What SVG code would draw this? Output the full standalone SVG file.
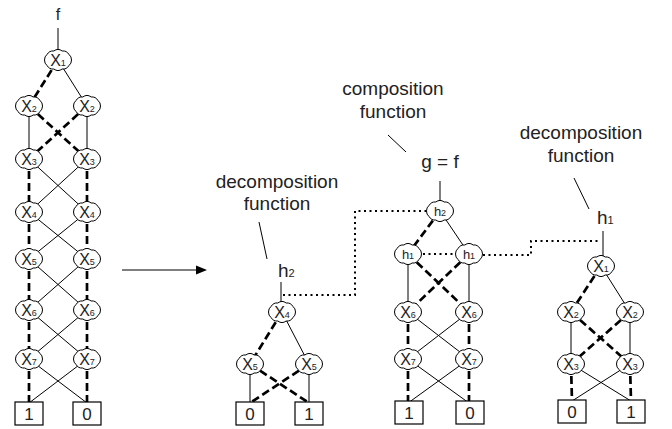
<svg xmlns="http://www.w3.org/2000/svg" xmlns:xlink="http://www.w3.org/1999/xlink" width="672" height="429" viewBox="0 0 672 429">
<style>
.n{fill:#fff;stroke:#000;stroke-width:1}
.b{fill:#fff;stroke:#000;stroke-width:1.2}
.t{font-family:"Liberation Sans",Arial,sans-serif;fill:#222}
.nl{font-size:16px;text-anchor:middle}
.hl{font-size:13px;text-anchor:middle}
.s{font-size:9px}
.lab{font-size:19px;text-anchor:middle}
.one{stroke:#000;stroke-width:1;fill:none}
.zero{stroke:#000;stroke-width:2.7;stroke-dasharray:8 4;fill:none}
.dot{stroke:#000;stroke-width:2;stroke-dasharray:2 3.5;fill:none}
.term{font-size:17px;text-anchor:middle}
</style>
<defs>
<path id="cloud" d="M13.5,0 A7,7 0 0 1 10.92,5.59 A7,7 0 0 1 4.17,9.03 A7,7 0 0 1 -4.17,9.03 A7,7 0 0 1 -10.92,5.59 A7,7 0 0 1 -13.5,0 A7,7 0 0 1 -10.92,-5.59 A7,7 0 0 1 -4.17,-9.03 A7,7 0 0 1 4.17,-9.03 A7,7 0 0 1 10.92,-5.59 A7,7 0 0 1 13.5,0 Z"/>
</defs>
<rect width="672" height="429" fill="#fff"/>

<g id="connectors">
<!-- left BDD -->
<line class="one" x1="58" y1="28" x2="58" y2="52"/>
<line class="zero" x1="58" y1="60" x2="29" y2="106"/>
<line class="one" x1="58" y1="60" x2="87" y2="106"/>
<line class="one" x1="29" y1="106" x2="29" y2="159"/>
<line class="zero" x1="29" y1="106" x2="87" y2="159"/>
<line class="zero" x1="87" y1="106" x2="29" y2="159"/>
<line class="one" x1="87" y1="106" x2="87" y2="159"/>
<line class="zero" x1="29" y1="159" x2="29" y2="212"/>
<line class="one" x1="29" y1="159" x2="87" y2="212"/>
<line class="one" x1="87" y1="159" x2="29" y2="212"/>
<line class="zero" x1="87" y1="159" x2="87" y2="212"/>
<line class="zero" x1="29" y1="212" x2="29" y2="259"/>
<line class="one" x1="29" y1="212" x2="87" y2="259"/>
<line class="one" x1="87" y1="212" x2="29" y2="259"/>
<line class="zero" x1="87" y1="212" x2="87" y2="259"/>
<line class="zero" x1="29" y1="259" x2="29" y2="310"/>
<line class="one" x1="29" y1="259" x2="87" y2="310"/>
<line class="one" x1="87" y1="259" x2="29" y2="310"/>
<line class="zero" x1="87" y1="259" x2="87" y2="310"/>
<line class="zero" x1="29" y1="310" x2="29" y2="359"/>
<line class="one" x1="29" y1="310" x2="87" y2="359"/>
<line class="one" x1="87" y1="310" x2="29" y2="359"/>
<line class="zero" x1="87" y1="310" x2="87" y2="359"/>
<line class="zero" x1="29" y1="359" x2="29" y2="403"/>
<line class="one" x1="29" y1="359" x2="87" y2="403"/>
<line class="one" x1="87" y1="359" x2="29" y2="403"/>
<line class="zero" x1="87" y1="359" x2="87" y2="403"/>
<!-- transformation arrow -->
<line class="one" x1="122" y1="270" x2="198" y2="270" stroke-width="1.3"/>
<polygon points="196,265.5 207,270 196,274.5" fill="#000"/>
<!-- h2 BDD -->
<line class="one" x1="259" y1="222" x2="267" y2="259"/>
<line class="one" x1="281" y1="282" x2="281" y2="304"/>
<line class="zero" x1="282" y1="312" x2="250" y2="364"/>
<line class="one" x1="282" y1="312" x2="309" y2="364"/>
<line class="one" x1="250" y1="364" x2="250" y2="403"/>
<line class="zero" x1="250" y1="364" x2="309" y2="403"/>
<line class="zero" x1="309" y1="364" x2="250" y2="403"/>
<line class="one" x1="309" y1="364" x2="309" y2="403"/>
<polyline class="dot" points="283,295 355,295 355,211 427,211"/>
<!-- composition BDD -->
<line class="one" x1="388" y1="135" x2="406" y2="152"/>
<line class="one" x1="440" y1="181" x2="440" y2="203"/>
<line class="zero" x1="440" y1="211" x2="408" y2="254"/>
<line class="one" x1="440" y1="211" x2="469" y2="254"/>
<line class="one" x1="408" y1="254" x2="408" y2="312"/>
<line class="zero" x1="408" y1="254" x2="469" y2="312"/>
<line class="zero" x1="469" y1="254" x2="408" y2="312"/>
<line class="one" x1="469" y1="254" x2="469" y2="312"/>
<line class="zero" x1="408" y1="312" x2="408" y2="359"/>
<line class="one" x1="408" y1="312" x2="469" y2="359"/>
<line class="one" x1="469" y1="312" x2="408" y2="359"/>
<line class="zero" x1="469" y1="312" x2="469" y2="359"/>
<line class="zero" x1="408" y1="359" x2="408" y2="403"/>
<line class="one" x1="408" y1="359" x2="469" y2="403"/>
<line class="one" x1="469" y1="359" x2="408" y2="403"/>
<line class="zero" x1="469" y1="359" x2="469" y2="403"/>
<line class="dot" x1="423" y1="254" x2="455" y2="254"/>
<polyline class="dot" points="483,255 531,255 531,241 601,241"/>
<!-- h1 BDD -->
<line class="one" x1="574" y1="178" x2="589" y2="209"/>
<line class="one" x1="603" y1="231" x2="603" y2="258"/>
<line class="zero" x1="601" y1="266" x2="571" y2="312"/>
<line class="one" x1="601" y1="266" x2="630" y2="312"/>
<line class="one" x1="571" y1="312" x2="571" y2="364"/>
<line class="zero" x1="571" y1="312" x2="630" y2="364"/>
<line class="zero" x1="630" y1="312" x2="571" y2="364"/>
<line class="one" x1="630" y1="312" x2="630" y2="364"/>
<line class="zero" x1="571" y1="364" x2="572" y2="401"/>
<line class="one" x1="571" y1="364" x2="631" y2="401"/>
<line class="one" x1="630" y1="364" x2="572" y2="401"/>
<line class="zero" x1="630" y1="364" x2="631" y2="401"/>
</g>

<g id="labels" class="t">
<text class="lab" x="58" y="20" style="font-size:16px">f</text>
<text class="lab" x="277" y="188">decomposition</text>
<text class="lab" x="277" y="210">function</text>
<text class="lab" x="278" y="277" style="text-anchor:start">h<tspan class="s" style="font-size:11px">2</tspan></text>
<text class="lab" x="393" y="95">composition</text>
<text class="lab" x="393" y="118">function</text>
<text class="lab" x="440" y="168">g = f</text>
<text class="lab" x="581" y="139">decomposition</text>
<text class="lab" x="581" y="162">function</text>
<text class="lab" x="597" y="224" style="text-anchor:start">h<tspan class="s" style="font-size:11px">1</tspan></text>
</g>

<!-- left BDD nodes -->
<g id="L_x1"><use xlink:href="#cloud" class="n" x="58" y="60"/><text class="t nl" x="58" y="66">X<tspan class="s">1</tspan></text></g>
<g id="L_x2a"><use xlink:href="#cloud" class="n" x="29" y="106"/><text class="t nl" x="29" y="112">X<tspan class="s">2</tspan></text></g>
<g id="L_x2b"><use xlink:href="#cloud" class="n" x="87" y="106"/><text class="t nl" x="87" y="112">X<tspan class="s">2</tspan></text></g>
<g id="L_x3a"><use xlink:href="#cloud" class="n" x="29" y="159"/><text class="t nl" x="29" y="165">X<tspan class="s">3</tspan></text></g>
<g id="L_x3b"><use xlink:href="#cloud" class="n" x="87" y="159"/><text class="t nl" x="87" y="165">X<tspan class="s">3</tspan></text></g>
<g id="L_x4a"><use xlink:href="#cloud" class="n" x="29" y="212"/><text class="t nl" x="29" y="218">X<tspan class="s">4</tspan></text></g>
<g id="L_x4b"><use xlink:href="#cloud" class="n" x="87" y="212"/><text class="t nl" x="87" y="218">X<tspan class="s">4</tspan></text></g>
<g id="L_x5a"><use xlink:href="#cloud" class="n" x="29" y="259"/><text class="t nl" x="29" y="265">X<tspan class="s">5</tspan></text></g>
<g id="L_x5b"><use xlink:href="#cloud" class="n" x="87" y="259"/><text class="t nl" x="87" y="265">X<tspan class="s">5</tspan></text></g>
<g id="L_x6a"><use xlink:href="#cloud" class="n" x="29" y="310"/><text class="t nl" x="29" y="316">X<tspan class="s">6</tspan></text></g>
<g id="L_x6b"><use xlink:href="#cloud" class="n" x="87" y="310"/><text class="t nl" x="87" y="316">X<tspan class="s">6</tspan></text></g>
<g id="L_x7a"><use xlink:href="#cloud" class="n" x="29" y="359"/><text class="t nl" x="29" y="365">X<tspan class="s">7</tspan></text></g>
<g id="L_x7b"><use xlink:href="#cloud" class="n" x="87" y="359"/><text class="t nl" x="87" y="365">X<tspan class="s">7</tspan></text></g>
<g id="L_t1"><rect class="b" x="15" y="402" width="28" height="23"/><text class="t term" x="29" y="420">1</text></g>
<g id="L_t0"><rect class="b" x="73" y="402" width="28" height="23"/><text class="t term" x="87" y="420">0</text></g>

<!-- h2 BDD nodes -->
<g id="A_x4"><use xlink:href="#cloud" class="n" x="282" y="312"/><text class="t nl" x="282" y="318">X<tspan class="s">4</tspan></text></g>
<g id="A_x5a"><use xlink:href="#cloud" class="n" x="250" y="364"/><text class="t nl" x="250" y="370">X<tspan class="s">5</tspan></text></g>
<g id="A_x5b"><use xlink:href="#cloud" class="n" x="309" y="364"/><text class="t nl" x="309" y="370">X<tspan class="s">5</tspan></text></g>
<g id="A_t0"><rect class="b" x="236" y="402" width="28" height="23"/><text class="t term" x="250" y="420">0</text></g>
<g id="A_t1"><rect class="b" x="295" y="402" width="28" height="23"/><text class="t term" x="309" y="420">1</text></g>

<!-- composition BDD nodes -->
<g id="B_h2"><use xlink:href="#cloud" class="n" x="440" y="211"/><text class="t hl" x="440" y="215.5">h<tspan class="s">2</tspan></text></g>
<g id="B_h1a"><use xlink:href="#cloud" class="n" x="408" y="254"/><text class="t hl" x="408" y="258.5">h<tspan class="s">1</tspan></text></g>
<g id="B_h1b"><use xlink:href="#cloud" class="n" x="469" y="254"/><text class="t hl" x="469" y="258.5">h<tspan class="s">1</tspan></text></g>
<g id="B_x6a"><use xlink:href="#cloud" class="n" x="408" y="312"/><text class="t nl" x="408" y="318">X<tspan class="s">6</tspan></text></g>
<g id="B_x6b"><use xlink:href="#cloud" class="n" x="469" y="312"/><text class="t nl" x="469" y="318">X<tspan class="s">6</tspan></text></g>
<g id="B_x7a"><use xlink:href="#cloud" class="n" x="408" y="359"/><text class="t nl" x="408" y="365">X<tspan class="s">7</tspan></text></g>
<g id="B_x7b"><use xlink:href="#cloud" class="n" x="469" y="359"/><text class="t nl" x="469" y="365">X<tspan class="s">7</tspan></text></g>
<g id="B_t1"><rect class="b" x="395" y="401" width="28" height="23"/><text class="t term" x="409" y="419">1</text></g>
<g id="B_t0"><rect class="b" x="456" y="401" width="28" height="23"/><text class="t term" x="470" y="419">0</text></g>

<!-- h1 BDD nodes -->
<g id="C_x1"><use xlink:href="#cloud" class="n" x="601" y="266"/><text class="t nl" x="601" y="272">X<tspan class="s">1</tspan></text></g>
<g id="C_x2a"><use xlink:href="#cloud" class="n" x="571" y="312"/><text class="t nl" x="571" y="318">X<tspan class="s">2</tspan></text></g>
<g id="C_x2b"><use xlink:href="#cloud" class="n" x="630" y="312"/><text class="t nl" x="630" y="318">X<tspan class="s">2</tspan></text></g>
<g id="C_x3a"><use xlink:href="#cloud" class="n" x="571" y="364"/><text class="t nl" x="571" y="370">X<tspan class="s">3</tspan></text></g>
<g id="C_x3b"><use xlink:href="#cloud" class="n" x="630" y="364"/><text class="t nl" x="630" y="370">X<tspan class="s">3</tspan></text></g>
<g id="C_t0"><rect class="b" x="558" y="400" width="28" height="23"/><text class="t term" x="572" y="418">0</text></g>
<g id="C_t1"><rect class="b" x="617" y="400" width="28" height="23"/><text class="t term" x="631" y="418">1</text></g>
</svg>
